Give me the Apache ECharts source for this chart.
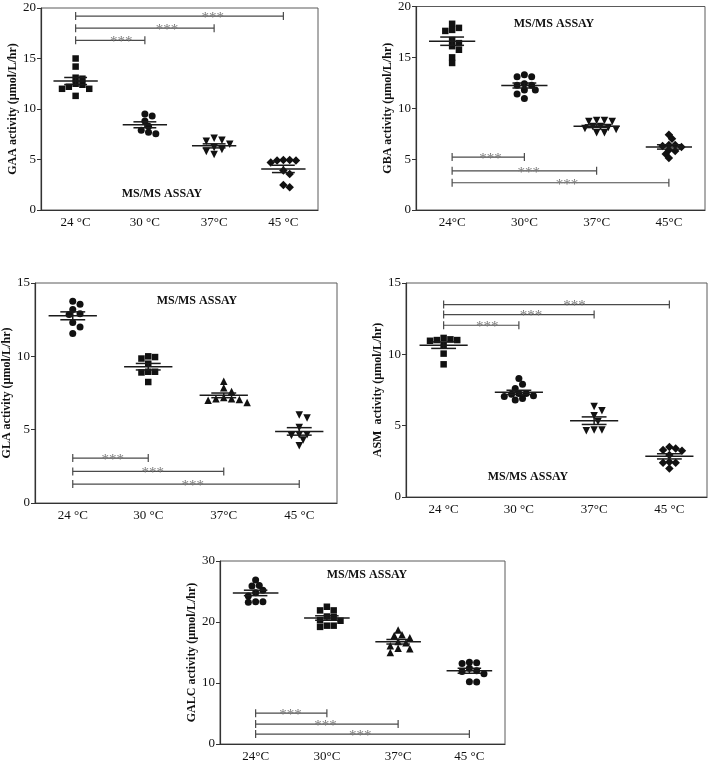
<!DOCTYPE html>
<html>
<head>
<meta charset="utf-8">
<script src="https://cdn.jsdelivr.net/npm/echarts@6/dist/echarts.min.js"></script>
<style>
  html, body { margin: 0; padding: 0; background: #ffffff; }
  #chart { width: 709px; height: 763px; }
</style>
</head>
<body>
<div id="chart"></div>
<script>
// ---------------- DATA ----------------
// GAA panel
const gaaCats = ['24 °C', '30 °C', '37°C', '45 °C'];
const gaa24 = [15.0, 14.2, 13.0, 13.1, 12.4, 12.5, 12.0, 12.0, 12.2, 11.3];
const gaa30 = [9.3, 9.5, 8.8, 8.3, 7.9, 7.55, 7.7];
const gaa37 = [7.1, 6.8, 6.9, 6.5, 6.2, 6.0, 5.8, 5.5];
const gaa45 = [4.96, 4.9, 4.7, 4.9, 4.96, 3.9, 3.57, 2.25, 2.48];
const gaaSig = [[0, 1, 16.8], [0, 2, 18.0], [0, 3, 19.2]];

// GBA panel
const gbaCats = ['24°C', '30°C', '37°C', '45°C'];
const gba24 = [18.3, 17.9, 17.7, 17.6, 16.7, 16.4, 16.1, 15.75, 15.0, 14.45];
const gba30 = [13.3, 13.1, 13.1, 12.4, 12.25, 12.25, 11.8, 11.8, 11.4, 10.95];
const gba37 = [8.8, 8.7, 8.7, 8.8, 8.2, 8.2, 8.0, 8.1, 7.9, 7.6, 7.6];
const gba45 = [7.4, 7.0, 6.4, 6.3, 6.2, 6.4, 5.9, 5.8, 5.5, 5.1];
const gbaSig = [[0, 1, 5.2], [0, 2, 3.85], [0, 3, 2.68]];

// GLA panel
const glaCats = ['24 °C', '30 °C', '37°C', '45 °C'];
const gla24 = [13.75, 13.55, 13.2, 12.85, 12.9, 12.3, 12.0, 11.55];
const gla30 = [9.95, 10.0, 9.85, 9.5, 8.95, 8.9, 8.95, 8.25];
const gla37 = [8.3, 7.85, 7.6, 7.2, 7.1, 7.0, 7.1, 7.05, 6.85];
const gla45 = [6.0, 5.8, 5.15, 4.65, 4.65, 4.6, 4.3, 3.9];
const glaSig = [[0, 1, 3.06], [0, 2, 2.15], [0, 3, 1.29]];

// ASM panel
const asmCats = ['24 °C', '30 °C', '37°C', '45 °C'];
const asm24 = [11.15, 11.0, 10.95, 11.0, 11.05, 10.65, 10.05, 9.3];
const asm30 = [8.3, 7.9, 7.6, 7.25, 7.2, 7.25, 7.1, 7.05, 6.9, 6.8];
const asm37 = [6.35, 6.05, 5.7, 5.3, 4.7, 4.65, 4.7];
const asm45 = [3.5, 3.4, 3.25, 3.3, 2.95, 2.4, 2.45, 2.4, 2.0];
const asmSig = [[0, 1, 12.04], [0, 2, 12.79], [0, 3, 13.49]];

// GALC panel
const galcCats = ['24°C', '30°C', '37°C', '45 °C'];
const galc24 = [26.9, 26.0, 25.9, 25.2, 24.8, 24.25, 23.3, 23.25, 23.3];
const galc30 = [22.5, 21.9, 21.9, 20.3, 20.9, 20.8, 20.2, 19.4, 19.2, 19.4];
const galc37 = [18.7, 17.9, 17.8, 17.4, 16.8, 16.6, 16.1, 15.7, 15.6, 15.0];
const galc45 = [13.4, 13.2, 13.3, 12.4, 11.9, 11.5, 12.0, 10.2, 10.15];
const galcSig = [[0, 1, 5.05], [0, 2, 3.26], [0, 3, 1.63]];

const yNames = [
  'GAA activity (µmol/L/hr)',
  'GBA activity (µmol/L/hr)',
  'GLA activity (µmol/L/hr)',
  'ASM  activity (µmol/L/hr)',
  'GALC activity (µmol/L/hr)'
];
const assayText = 'MS/MS ASSAY';

// ---------------- LAYOUT / STYLE ----------------
const FONT = '"Liberation Serif", "Times New Roman", serif';
const SYM = {
  square:  { symbol: 'rect', size: 6.5, rotate: 0 },
  circle:  { symbol: 'circle', size: 7, rotate: 0 },
  triUp:   { symbol: 'triangle', size: 7.5, rotate: 0 },
  triDown: { symbol: 'triangle', size: 7.5, rotate: 180 },
  diamond: { symbol: 'rect', size: 6, rotate: 45 }
};

const panels = [
  { grid: { left: 41, top: 8, width: 277, height: 202 }, max: 20, interval: 5,
    cats: gaaCats, groups: [gaa24, gaa30, gaa37, gaa45], sig: gaaSig,
    syms: ['square', 'circle', 'triDown', 'diamond'], assay: [162, 194], starFrac: 0.66 },
  { grid: { left: 416, top: 6, width: 289, height: 204 }, max: 20, interval: 5,
    cats: gbaCats, groups: [gba24, gba30, gba37, gba45], sig: gbaSig,
    syms: ['square', 'circle', 'triDown', 'diamond'], assay: [554, 24], starFrac: 0.53 },
  { grid: { left: 35, top: 283, width: 302, height: 220 }, max: 15, interval: 5,
    cats: glaCats, groups: [gla24, gla30, gla37, gla45], sig: glaSig,
    syms: ['circle', 'square', 'triUp', 'triDown'], assay: [197, 301], starFrac: 0.53 },
  { grid: { left: 406, top: 283, width: 301, height: 214 }, max: 15, interval: 5,
    cats: asmCats, groups: [asm24, asm30, asm37, asm45], sig: asmSig,
    syms: ['square', 'circle', 'triDown', 'diamond'], assay: [528, 477], starFrac: 0.58 },
  { grid: { left: 220, top: 561, width: 285, height: 184 }, max: 30, interval: 10,
    cats: galcCats, groups: [galc24, galc30, galc37, galc45], sig: galcSig,
    syms: ['circle', 'square', 'triUp', 'circle'], assay: [367, 575], starFrac: 0.49 }
];

// ---------------- HELPERS ----------------
function mean(a) { return a.reduce((s, v) => s + v, 0) / a.length; }
function sem(a) {
  const m = mean(a);
  const v = a.reduce((s, x) => s + (x - m) * (x - m), 0) / (a.length - 1);
  return Math.sqrt(v / a.length);
}
// simple beeswarm: horizontal pixel offsets so that symbols do not overlap
function swarm(values, pxPerUnit, d) {
  const order = values.map((v, i) => i).sort((a, b) => values[b] - values[a]);
  const placed = [];
  const off = new Array(values.length).fill(0);
  const minD2 = (d * 0.8) * (d * 0.8);
  for (const i of order) {
    const y = values[i] * pxPerUnit;
    for (let k = 0; k < 60; k++) {
      const cand = (k % 2 === 1 ? 1 : -1) * Math.ceil(k / 2) * d / 2;
      let ok = true;
      for (const p of placed) {
        const dx = cand - p.x, dy = y - p.y;
        if (dx * dx + dy * dy < minD2 || (Math.abs(dy) < d * 0.6 && Math.abs(dx) < d * 0.95)) { ok = false; break; }
      }
      if (ok) { off[i] = cand; placed.push({ x: cand, y: y }); break; }
    }
  }
  return off;
}

// ---------------- BUILD OPTION ----------------
const grids = [], xAxes = [], yAxes = [], series = [], graphics = [];

panels.forEach((p, pi) => {
  grids.push(Object.assign({ show: true, borderColor: '#5a5a5a', borderWidth: 1, containLabel: false }, p.grid));
  xAxes.push({
    type: 'category', gridIndex: pi, data: p.cats, boundaryGap: true,
    axisLine: { lineStyle: { color: '#333', width: 1.2 } },
    axisTick: { alignWithLabel: true, length: 4, lineStyle: { color: '#333' } },
    axisLabel: { color: '#111', fontFamily: FONT, fontSize: 13, margin: 6 },
    splitLine: { show: false }
  });
  yAxes.push({
    type: 'value', gridIndex: pi, min: 0, max: p.max, interval: p.interval,
    name: yNames[pi], nameLocation: 'middle', nameRotate: 90, nameGap: 22,
    nameTextStyle: { fontFamily: FONT, fontWeight: 'bold', fontSize: 12, color: '#111' },
    axisLine: { show: true, lineStyle: { color: '#333', width: 1.2 } },
    axisTick: { show: true, length: 4, lineStyle: { color: '#333' } },
    axisLabel: { color: '#111', fontFamily: FONT, fontSize: 13, margin: 5 },
    splitLine: { show: false }
  });

  const pxPerUnit = p.grid.height / p.max;
  p.groups.forEach((g, gi) => {
    const s = SYM[p.syms[gi]];
    const offs = swarm(g, pxPerUnit, s.size + 0.3);
    series.push({
      type: 'scatter', xAxisIndex: pi, yAxisIndex: pi,
      symbol: s.symbol, symbolSize: s.size, symbolRotate: s.rotate,
      itemStyle: { color: '#111', opacity: 1 },
      data: g.map((v, j) => ({ value: [gi, v], symbolOffset: [offs[j], 0] })),
      z: 3, silent: true
    });
  });

  // mean and SEM lines
  series.push({
    type: 'custom', xAxisIndex: pi, yAxisIndex: pi, z: 4, silent: true,
    encode: { x: 0, y: 1 },
    data: p.groups.map((g, gi) => [gi, mean(g), sem(g)]),
    renderItem: function (params, api) {
      const x = api.value(0), m = api.value(1), e = api.value(2);
      const c = api.coord([x, m]);
      const t = api.coord([x, m + e]);
      const b = api.coord([x, m - e]);
      const bw = api.size([1, 0])[0];
      const st = { stroke: '#1a1a1a', lineWidth: 1.5 };
      return {
        type: 'group', children: [
          { type: 'line', shape: { x1: c[0] - bw * 0.32, y1: c[1], x2: c[0] + bw * 0.32, y2: c[1] }, style: st },
          { type: 'line', shape: { x1: c[0] - bw * 0.165, y1: t[1], x2: c[0] + bw * 0.165, y2: t[1] }, style: st },
          { type: 'line', shape: { x1: c[0] - bw * 0.165, y1: b[1], x2: c[0] + bw * 0.165, y2: b[1] }, style: st },
          { type: 'line', shape: { x1: c[0], y1: t[1], x2: c[0], y2: b[1] }, style: st }
        ]
      };
    }
  });

  // significance brackets
  const frac = p.starFrac;
  series.push({
    type: 'custom', xAxisIndex: pi, yAxisIndex: pi, z: 2, silent: true,
    encode: { x: [0, 1], y: 2 },
    data: p.sig,
    renderItem: function (params, api) {
      const a = api.coord([api.value(0), api.value(2)]);
      const b = api.coord([api.value(1), api.value(2)]);
      const st = { stroke: '#4a4a4a', lineWidth: 1.2 };
      return {
        type: 'group', children: [
          { type: 'line', shape: { x1: a[0], y1: a[1], x2: b[0], y2: b[1] }, style: st },
          { type: 'line', shape: { x1: a[0], y1: a[1] - 4, x2: a[0], y2: a[1] + 4 }, style: st },
          { type: 'line', shape: { x1: b[0], y1: b[1] - 4, x2: b[0], y2: b[1] + 4 }, style: st },
          { type: 'text', style: {
              x: a[0] + (b[0] - a[0]) * frac, y: a[1] + 2,
              text: '***', fill: '#7a7a7a', font: '15px ' + FONT,
              textAlign: 'center', textVerticalAlign: 'middle'
            } }
        ]
      };
    }
  });

  graphics.push({
    type: 'text', x: p.assay[0], y: p.assay[1], z: 5,
    style: { text: assayText, fill: '#111', font: 'bold 12px ' + FONT,
             textAlign: 'center', textVerticalAlign: 'middle' }
  });
});

const chart = echarts.init(document.getElementById('chart'), null, { renderer: 'canvas' });
chart.setOption({
  backgroundColor: '#ffffff',
  animation: false,
  grid: grids,
  xAxis: xAxes,
  yAxis: yAxes,
  series: series,
  graphic: graphics
});
</script>
</body>
</html>
